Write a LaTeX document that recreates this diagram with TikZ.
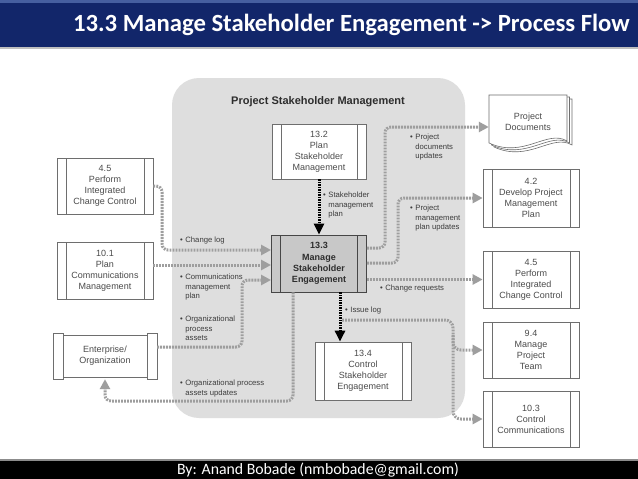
\documentclass[tikz,border=0pt]{standalone}
\usepackage{fontspec}
\setmainfont{Liberation Sans}
\newfontfamily\hdrfont{Carlito}
\usetikzlibrary{arrows.meta}
\definecolor{navy}{RGB}{18,38,106}
\definecolor{navylight}{RGB}{70,95,160}
\definecolor{regionfill}{RGB}{222,222,222}
\definecolor{boxline}{RGB}{110,110,110}
\definecolor{boxtext}{RGB}{75,75,75}
\definecolor{darkline}{RGB}{70,70,70}
\definecolor{midfill}{RGB}{200,200,200}
\definecolor{dotgray}{RGB}{158,158,158}
\definecolor{labtext}{RGB}{60,60,60}
\definecolor{titletext}{RGB}{45,45,45}
\newcommand\blab[1]{\begin{tabular}{@{}l@{\hspace{2.5pt}}l@{}}#1\end{tabular}}
\tikzset{
  pp/.store in=\ppcol, pp=boxline,
  proc/.style={draw=boxline, fill=white, line width=0.7pt, align=center, inner sep=0pt,
    text=boxtext, font=\fontsize{9}{11}\selectfont, minimum width=96pt, minimum height=57pt,
    path picture={\draw[draw=\ppcol, line width=0.7pt]
      ([xshift=9pt]path picture bounding box.south west) -- ([xshift=9pt]path picture bounding box.north west)
      ([xshift=-9pt]path picture bounding box.south east) -- ([xshift=-9pt]path picture bounding box.north east);}},
  mainproc/.style={proc, pp=darkline, draw=darkline, fill=midfill, line width=0.9pt, text=titletext,
    font=\fontsize{9}{11.2}\selectfont\bfseries},
  gline/.style={draw=dotgray, line width=3pt, dash pattern=on 1.8pt off 1.2pt, rounded corners=6pt,
    -{Triangle[length=10pt,width=10pt]}},
  bline/.style={draw=black, line width=3pt, dash pattern=on 1.5pt off 1pt,
    -{Triangle[length=11pt,width=10pt]}},
  lab/.style={font=\fontsize{7.7}{9.6}\selectfont, text=labtext, inner sep=0pt, anchor=north west},
  sheet/.style={draw=boxline, fill=white, line width=0.6pt}
}
\begin{document}
\begin{tikzpicture}[x=1pt,y=-1pt]
\useasboundingbox (0,0) rectangle (638,479);
\fill[white] (0,0) rectangle (638,479);
% header
\fill[navylight] (0,0) rectangle (638,2.5);
\fill[navy] (0,2.5) rectangle (638,47);
\fill[black!25] (0,47) rectangle (638,48.5);
\node[text=white, font=\hdrfont\bfseries\fontsize{24.7}{28}\selectfont, anchor=east, inner sep=0pt] (hdr) at (630,25) {13.3 Manage Stakeholder Engagement -> Process Flow};
% footer
\fill[black] (0,459) rectangle (638,479);
\fill[black!45] (0,459) rectangle (638,460.5);
\node[text=white, font=\hdrfont\fontsize{15.8}{18}\selectfont, inner sep=0pt] (ftr) at (318,470.5) {By: Anand Bobade (nmbobade@gmail.com)};
% region
\fill[regionfill, rounded corners=27pt] (172,78) rectangle (465,418);
\node[font=\fontsize{11}{13}\selectfont\bfseries, text=titletext, inner sep=0pt] (rt) at (318,102) {Project Stakeholder Management};
% process nodes
\node[proc, minimum width=94pt, minimum height=55pt] (p132) at (319,151.5) {13.2\\Plan\\Stakeholder\\Management};
\node[mainproc, minimum width=95pt, minimum height=57pt] (p133) at (319,263.5) {13.3\\Manage\\Stakeholder\\Engagement};
\node[proc, minimum height=58pt] (p134) at (363,371) {13.4\\Control\\Stakeholder\\Engagement};
\node[proc, minimum height=56pt] (l45) at (105,186) {4.5\\Perform\\Integrated\\Change Control};
\node[proc] (l101) at (105,270.5) {10.1\\Plan\\Communications\\Management};
% enterprise shape
\draw[sheet] (63,335) rectangle (147,377);
\draw[sheet] (53,333) rectangle (63,379);
\draw[sheet] (147,333) rectangle (157,379);
\node[align=center, inner sep=0pt, text=boxtext, font=\fontsize{9}{11}\selectfont, minimum width=104pt, minimum height=46pt] (ent) at (105,356) {Enterprise/\\Organization};
% documents stack
\begin{scope}[shift={(489,95)}]
  \draw[sheet] (5,4) -- (83,4) -- (83,50) .. controls (63,38) and (40,68) .. (5,52) -- cycle;
  \draw[sheet] (2.5,2) -- (80.5,2) -- (80.5,48) .. controls (60.5,36) and (37.5,66) .. (2.5,50) -- cycle;
  \draw[sheet] (0,0) -- (78,0) -- (78,46) .. controls (58,34) and (35,64) .. (0,48) -- cycle;
\end{scope}
\node[align=center, inner sep=0pt, text=boxtext, font=\fontsize{9}{11}\selectfont, minimum width=78pt, minimum height=40pt] (docs) at (528,121.5) {Project\\Documents};
% right nodes
\node[proc, minimum height=58pt] (r42) at (531,198) {4.2\\Develop Project\\Management\\Plan};
\node[proc] (r45) at (531,279.5) {4.5\\Perform\\Integrated\\Change Control};
\node[proc, minimum height=56pt] (r94) at (531,350) {9.4\\Manage\\Project\\Team};
\node[proc, minimum height=56pt] (r103) at (531,419) {10.3\\Control\\Communications};
% connectors
\coordinate (a1) at ([yshift=13.5pt]p133.west);
\coordinate (a2) at ([yshift=-1.5pt]p133.west);
\coordinate (a3) at ([yshift=-16.5pt]p133.west);
\draw[gline] (l45.east) -- (162,186) -- (162,250) -- (a1);
\draw[gline] (l101.east |- a2) -- (a2);
\draw[gline] ([yshift=9pt]ent.east) -- (242,347) -- (242,280) -- (a3);
\draw[gline] ([xshift=-26pt]p133.south) -- (293,401) -- (105,401) -- (ent.south);
\draw[gline] ([yshift=15.5pt]p133.east) -- (385,248) -- (385,127) -- ([yshift=-5.5pt]docs.west);
\draw[gline] ([yshift=0.5pt]p133.east) -- (398,263) -- (398,198) -- (r42.west);
\draw[gline] (p133.east |- r45.west) -- (r45.west);
\draw[bline] (p132.south) -- (p133.north);
\coordinate (bs) at ([xshift=21pt]p133.south);
\draw[bline] (bs) -- (bs |- p134.north);
\coordinate (il) at (342,320);
\draw[gline, rounded corners=8pt] (il) -- (453,320) -- (453,419) -- (r103.west);
\draw[gline, rounded corners=8pt] (453,335) -- (453,350) -- (r94.west);
% labels
\node[lab] (lb1) at (180,235.5) {\blab{\textbullet & Change log}};
\node[lab] (lb2) at (180,272.5) {\blab{\textbullet & Communications\\ & management\\ & plan}};
\node[lab] (lb3) at (180,314.5) {\blab{\textbullet & Organizational\\ & process\\ & assets}};
\node[lab] (lb4) at (180,378.5) {\blab{\textbullet & Organizational process\\ & assets updates}};
\node[lab] (lb5) at (323,190.5) {\blab{\textbullet & Stakeholder\\ & management\\ & plan}};
\node[lab] (lb6) at (410,132.5) {\blab{\textbullet & Project\\ & documents\\ & updates}};
\node[lab] (lb7) at (410,203.5) {\blab{\textbullet & Project\\ & management\\ & plan updates}};
\node[lab] (lb8) at (380,283.5) {\blab{\textbullet & Change requests}};
\node[lab] (lb9) at (345,305.5) {\blab{\textbullet & Issue log}};
\end{tikzpicture}
\end{document}
